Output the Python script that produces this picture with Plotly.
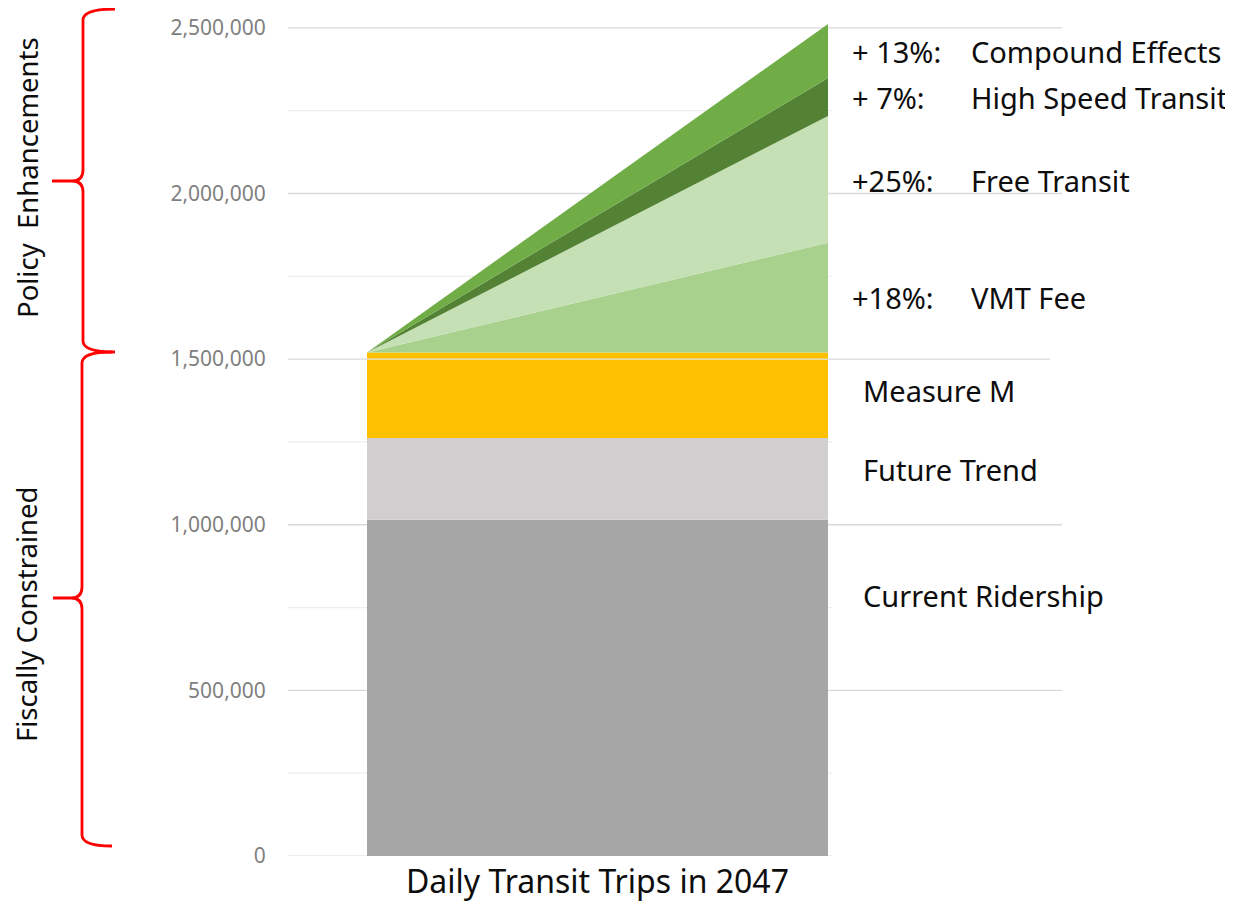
import plotly.graph_objects as go

# ---------------- data ----------------
series_names = ["Current Ridership", "Future Trend", "Measure M",
                "VMT Fee", "Free Transit", "High Speed Transit", "Compound Effects"]
# values at the left edge and right edge of the "Daily Transit Trips in 2047" column
left_values = [1015000, 247000, 258000, 0, 0, 0, 0]
right_values = [1015000, 247000, 258000, 331000, 383000, 115000, 163000]
percent_labels = ["", "", "", "+18%:", "+25%:", "+ 7%:", "+ 13%:"]
series_colors = ["#A6A6A6", "#D0CECE", "#FFC000", "#A9D18E", "#C5E0B4", "#548235", "#70AD47"]
label_y = [785000, 1168000, 1404000, 1686000, 2040000, 2290000, 2430000]

x_edges = [0, 1]
tick_values = [0, 500000, 1000000, 1500000, 2000000, 2500000]
tick_labels = [f"{v:,}" for v in tick_values]
major_grid = [500000, 1000000, 1500000, 2000000, 2500000]
minor_grid = [0, 250000, 750000, 1250000, 1750000, 2250000]
x_title = "Daily Transit Trips in 2047"

# ---------------- layout geometry (pixels in the target picture) ----------------
OFF = 8  # the page body adds an 8px margin
W, H = 1233 - OFF, 904 - OFF
PL, PR, PT, PB = 288, 1062, 11, 856   # plot area in target pixels
Y_MAX = 2551000
X_LEFT_PX, X_RIGHT_PX = 367, 828
ppu = X_RIGHT_PX - X_LEFT_PX
x_range = [-(X_LEFT_PX - PL) / ppu, 1 + (PR - X_RIGHT_PX) / ppu]


def pxx(px):
    return (px - PL) / (PR - PL)


def pxy(py):
    return (PB - py) / (PB - PT)


FONT = "Noto Sans"
TXT = "#0D0D0D"

fig = go.Figure()
for name, lv, rv, col in zip(series_names, left_values, right_values, series_colors):
    fig.add_trace(go.Scatter(
        x=x_edges, y=[lv, rv], name=name, mode="lines",
        line=dict(width=0, color=col), fillcolor=col,
        stackgroup="one", hoverinfo="name+y", showlegend=False,
    ))

shapes = []
for v in major_grid:
    right = pxx(1050) if v == 1500000 else 1.0
    shapes.append(dict(type="line", xref="paper", yref="y", x0=0, x1=right, y0=v, y1=v,
                       line=dict(color="#D9D9D9", width=1.3), layer="below"))
for v in minor_grid:
    col = "#D9D9D9" if v == 0 else "#EDEDED"
    shapes.append(dict(type="line", xref="paper", yref="y", x0=0, x1=pxx(832), y0=v, y1=v,
                       line=dict(color=col, width=1.2), layer="below"))
# light line visible across the Measure M band
shapes.append(dict(type="line", xref="x", yref="y", x0=0, x1=1, y0=1500000, y1=1500000,
                   line=dict(color="#E3E3E3", width=1.2), layer="above"))


def brace_path(xs, xt, xe, yt, ym, yb, r):
    pts = [
        ("M", [(xe, yt)]),
        ("Q", [(xs, yt), (xs, yt + r)]),
        ("L", [(xs, ym - r)]),
        ("Q", [(xs, ym), (xs - r, ym)]),
        ("L", [(xt, ym)]),
        ("M", [(xs - r, ym)]),
        ("Q", [(xs, ym), (xs, ym + r)]),
        ("L", [(xs, yb - r)]),
        ("Q", [(xs, yb), (xe, yb)]),
    ]
    out = []
    for cmd, ps in pts:
        out.append(cmd + " " + " ".join(f"{pxx(a):.5f},{pxy(b):.5f}" for a, b in ps))
    return " ".join(out)


for args in [(83, 52, 115, 9, 181, 352, 11), (82, 53, 112, 352, 598, 846, 11)]:
    shapes.append(dict(type="path", xref="paper", yref="paper", path=brace_path(*args),
                       line=dict(color="#FF0000", width=2.8), layer="above"))

annotations = []
pct_x = (850 - X_LEFT_PX) / ppu
name_x_green = (969 - X_LEFT_PX) / ppu
name_x_gray = (861 - X_LEFT_PX) / ppu
for name, pct, ly in zip(series_names, percent_labels, label_y):
    f = dict(family=FONT, size=29, color=TXT)
    if pct:
        annotations.append(dict(x=pct_x, y=ly, xref="x", yref="y", text=pct, showarrow=False,
                                xanchor="left", yanchor="middle", font=f))
        annotations.append(dict(x=name_x_green, y=ly, xref="x", yref="y", text=name,
                                showarrow=False, xanchor="left", yanchor="middle", font=f))
    else:
        annotations.append(dict(x=name_x_gray, y=ly, xref="x", yref="y", text=name,
                                showarrow=False, xanchor="left", yanchor="middle", font=f))

annotations.append(dict(x=0.5, y=pxy(881), xref="x", yref="paper", text=x_title,
                        showarrow=False, xanchor="center", yanchor="middle", borderpad=0,
                        font=dict(family=FONT, size=32, color=TXT)))
annotations.append(dict(x=pxx(27), y=pxy(178), xref="paper", yref="paper",
                        text="Policy\u00a0\u00a0Enhancements", textangle=-90, showarrow=False,
                        xanchor="center", yanchor="middle",
                        font=dict(family=FONT, size=27.5, color=TXT)))
annotations.append(dict(x=pxx(27), y=pxy(615), xref="paper", yref="paper",
                        text="Fiscally Constrained", textangle=-90, showarrow=False,
                        xanchor="center", yanchor="middle",
                        font=dict(family=FONT, size=27.5, color=TXT)))

fig.update_layout(
    width=W, height=H,
    margin=dict(l=PL - OFF, r=1233 - PR, t=PT - OFF, b=904 - PB, pad=0),
    paper_bgcolor="white", plot_bgcolor="white",
    showlegend=False,
    shapes=shapes, annotations=annotations,
    xaxis=dict(range=x_range, showgrid=False, zeroline=False, showticklabels=False,
               showline=False, fixedrange=True),
    yaxis=dict(range=[0, Y_MAX], tickvals=tick_values, ticktext=tick_labels,
               showgrid=False, zeroline=False, showline=False,
               ticks="outside", ticklen=17, tickcolor="rgba(0,0,0,0)",
               tickfont=dict(family=FONT, size=21, color="#7F7F7F"), fixedrange=True),
)

fig.write_html("out.html")
